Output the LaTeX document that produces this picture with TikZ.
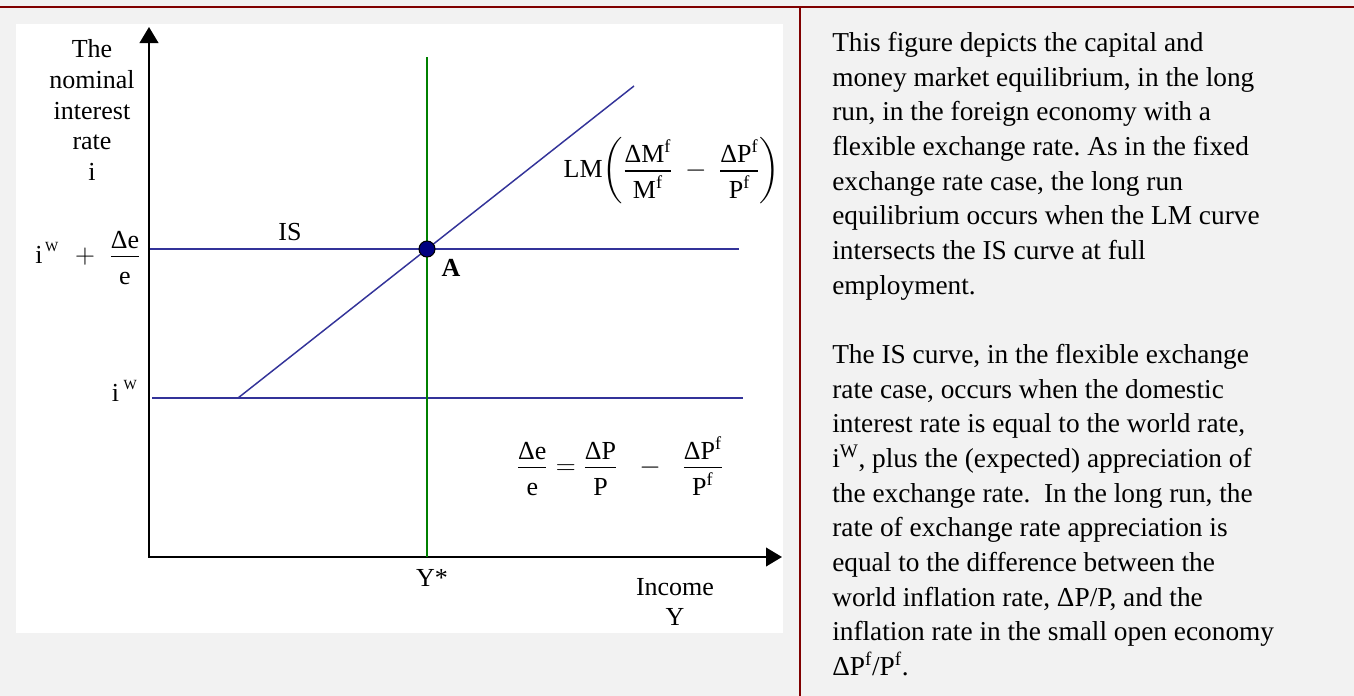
\documentclass[tikz,border=0pt]{standalone}
\usepackage{amsmath}
\usepackage{fontspec}
\setmainfont{Liberation Serif}
\usetikzlibrary{arrows.meta}
\definecolor{page}{HTML}{F2F2F2}
\definecolor{frame}{HTML}{800000}
\definecolor{navy}{HTML}{333399}
\definecolor{dot}{HTML}{000080}
\definecolor{vert}{HTML}{008000}
\newcommand{\rfrac}[2]{\dfrac{\raisebox{-2.5pt}{#1}}{\text{\rule{0pt}{18pt}#2}}}
\newcommand{\supW}{\raisebox{9pt}{\fontsize{10.5}{11}\selectfont W}}
\frenchspacing

\begin{document}
\begin{tikzpicture}[x=0.75pt,y=-0.75pt,>={Triangle[length=12pt,width=14pt]},
  lbl/.style={font=\fontsize{19.5}{23}\selectfont,inner sep=0pt},
  para/.style={font=\fontsize{20.5}{26}\selectfont,align=left,inner sep=0pt},
  curve/.style={navy,line width=1.1pt}]
  \useasboundingbox (0,0) rectangle (1354,696);
  \fill[page] (0,0) rectangle (1354,696);
  \fill[white] (16,24) rectangle (783,633);
  \draw[frame,line width=1.5pt] (0,7) -- (1354,7);
  \draw[frame,line width=1.5pt] (800,7) -- (800,696);
  % axes
  \coordinate (O) at (149,557);
  \coordinate (ytop) at (149,27);
  \coordinate (xend) at (782,557);
  \draw[<->,line width=1.5pt] (ytop) -- (O) -- (xend);
  % curves
  \coordinate (A) at (427,249);
  \coordinate (isL) at (150,249);
  \coordinate (isR) at (739,249);
  \coordinate (iwL) at (152,398);
  \coordinate (iwR) at (743,398);
  \coordinate (lmL) at (238,398);
  \coordinate (lmR) at (634,86);
  \coordinate (ytop2) at (427,57);
  \coordinate (ystar) at (427,557);
  \draw[curve] (isL) -- (isR);
  \draw[curve] (iwL) -- (iwR);
  \draw[curve] (lmL) -- (lmR);
  \draw[vert,line width=1pt] (ytop2) -- (ystar);
  \filldraw[fill=dot,draw=black,line width=0.8pt] (A) circle (6pt);
  % labels
  \node[lbl,align=center] (ylab) at (92,110) {The\\nominal\\interest\\rate\\i};
  \node[lbl,anchor=east] (israte) at (141,258) {$\text{i\hspace{2pt}\supW}\hspace{8pt}+\hspace{6pt}\rfrac{Δe}{e}$};
  \node[lbl,anchor=base east] (iw) at (137,401) {i\,\supW};
  \node[lbl] (islab) at (290,232) {IS};
  \node[lbl] (lmlab) at (672,171) {$\text{LM}\!\left(\rfrac{ΔM\textsuperscript{f}}{M\textsuperscript{f}}\:-\:\rfrac{ΔP\textsuperscript{f}}{P\textsuperscript{f}}\right)$};
  \node[lbl,font=\fontsize{19.5}{23}\selectfont\bfseries] (alab) at (451,268) {A};
  \node[lbl] (eqn) at (620,466) {$\rfrac{Δe}{e}=\rfrac{ΔP}{P}\;\;-\;\;\rfrac{ΔP\textsuperscript{f}}{P\textsuperscript{f}}$};
  \node[lbl] (ystarlab) at (432,578) {Y*};
  \node[lbl,align=center] (xlab) at (675,602) {Income\\Y};
  % text
  \node[para,anchor=north west] (txt) at (832,32) {This figure depicts the capital and\\
money market equilibrium, in the long\\
run, in the foreign economy with a\\
flexible exchange rate. As in the fixed\\
exchange rate case, the long run\\
equilibrium occurs when the LM curve\\
intersects the IS curve at full\\
employment.\\[26pt]
The IS curve, in the flexible exchange\\
rate case, occurs when the domestic\\
interest rate is equal to the world rate,\\
i\textsuperscript{W}, plus the (expected) appreciation of\\
the exchange rate.\ \ In the long run, the\\
rate of exchange rate appreciation is\\
equal to the difference between the\\
world inflation rate, ΔP/P, and the\\
inflation rate in the small open economy\\
ΔP\textsuperscript{f}/P\textsuperscript{f}.};
\end{tikzpicture}
\end{document}
